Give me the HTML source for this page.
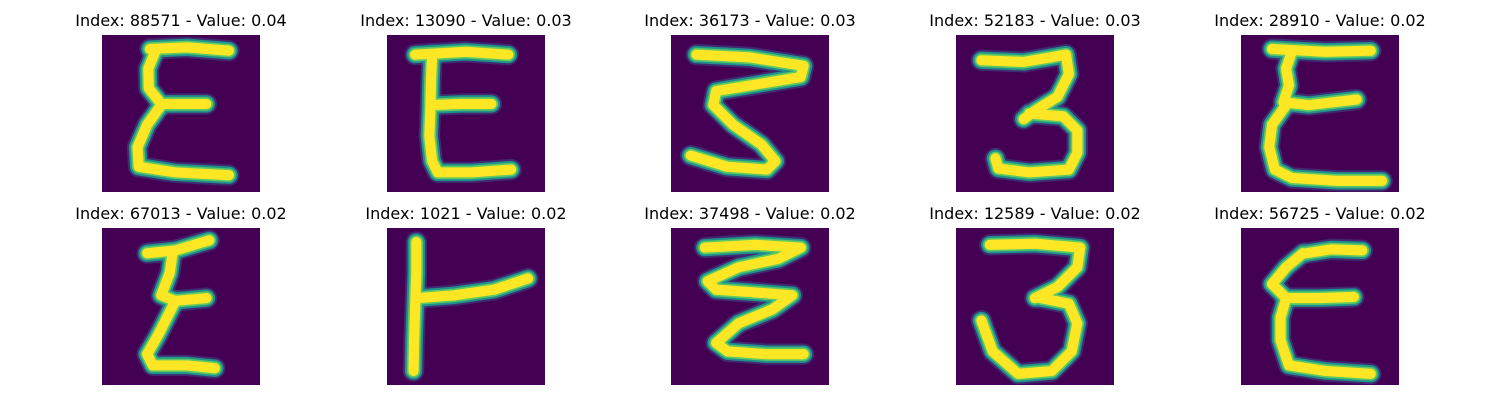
<!DOCTYPE html>
<html>
<head>
<meta charset="utf-8">
<style>
  html,body{margin:0;padding:0;background:#fff;}
  body{width:1500px;height:400px;position:relative;overflow:hidden;font-family:"DejaVu Sans","Liberation Sans",sans-serif;}
  .title{position:absolute;width:320px;text-align:center;font-size:16px;color:#000;line-height:19px;white-space:nowrap;}
  svg.img{position:absolute;}
</style>
</head>
<body>
<script>
const indices = [88571, 13090, 36173, 52183, 28910, 67013, 1021, 37498, 12589, 56725];
const values = [0.04, 0.03, 0.03, 0.03, 0.02, 0.02, 0.02, 0.02, 0.02, 0.02];
// stroke polylines in 28x28 pixel space for each digit-like glyph
const strokes = [
  [[[8.5,2.5],[15,2.2],[22.5,2.8]],[[9.5,2.8],[8.2,6],[8.3,9.5],[10.5,12.3],[18.5,12.3]],[[10.5,12.5],[8,16],[6.3,20],[6.5,23.5],[13,24.5],[22.5,25]]],
  [[[5,3.5],[14,3],[21.5,3.5]],[[8,3.5],[7.8,8],[7.7,13],[7.5,18],[8,22.5],[9,24.5],[15,24.5],[22,24]],[[8,12.5],[13,12.3],[18.5,12.3]]],
  [[[4.5,3.5],[14,4],[23.5,5.5],[23,7.5],[14,9],[8,10],[7.5,12.5],[11,16],[16,19.5],[18.5,22.5],[17,24],[10,23.5],[3.5,21.5]]],
  [[[4.5,4.5],[12,4.8],[19.5,3.5],[20,7],[18,11],[14,13.5],[12,15]],[[13,14],[19,14.5],[21.5,17],[21.5,21],[20,24],[13,24.5],[7.5,23.8],[7,22]]],
  [[[5.5,2.5],[15,3],[23,2.8]],[[9,3],[8,6],[8.5,9],[7.5,12],[12,12.5],[20.5,11.5]],[[8,12.5],[5.5,16],[5,20],[6,24],[9,25.5],[17,26],[25,26]]],
  [[[8,4.5],[13,4],[19,2.2]],[[12.5,4.5],[12,8],[10.5,12],[13,13],[18.5,12.5]],[[13,13],[11.5,16],[10,19],[8,22.5],[9,24.5],[15,24.5],[20,25]]],
  [[[5.2,2.5],[5.2,8],[5,14],[4.8,20],[4.7,25.5]],[[5.5,12.5],[12,12],[19,11],[25,9]]],
  [[[6,3.5],[15,3],[23,3.5],[19,5.5],[12,7],[6.5,9.5],[8,11],[15,11.5],[21.5,12],[18,14.5],[12,17],[8,20.5],[10,22],[17,22.5],[23.5,22.5]]],
  [[[6,3],[14,2.8],[22,3.5],[21.5,7],[18,10.5],[14,12.5]],[[15,12.5],[20,13.5],[21.5,17],[20.5,22],[17,25.5],[11,26],[6.5,22],[4.5,16.5]]],
  [[[11.5,4.5],[16,3.8],[21.5,4]],[[11,4.5],[8,7],[5.5,10],[8,12.5],[14,12.5],[20,12.3]],[[8,12.5],[7,16],[7,20],[8.5,24.5],[15,25.5],[23,26]]]
];
const xs = [102, 387, 671, 956, 1241];
const ys = [35, 228];
const SZ = 158;
const NS = "http://www.w3.org/2000/svg";
for (let i = 0; i < indices.length; i++) {
  const col = i % 5, row = Math.floor(i / 5);
  const t = document.createElement('div');
  t.className = 'title';
  
  
  t.style.left = (xs[col] + SZ / 2 - 160) + 'px';
  t.style.top = (ys[row] - 24) + 'px';
  t.textContent = 'Index: ' + indices[i] + ' - Value: ' + values[i].toFixed(2);
  document.body.appendChild(t);
  const svg = document.createElementNS(NS, 'svg');
  svg.setAttribute('class', 'img');
  
  
  svg.setAttribute('width', SZ);
  svg.setAttribute('height', SZ - 1);
  svg.setAttribute('viewBox', '0 0 28 28');
  svg.setAttribute('preserveAspectRatio', 'none');
  svg.style.left = xs[col] + 'px';
  svg.style.top = ys[row] + 'px';
  const bg = document.createElementNS(NS, 'rect');
  
  
  bg.setAttribute('width', 28); bg.setAttribute('height', 28); bg.setAttribute('fill', '#440154');
  svg.appendChild(bg);
  const layers = [[3.8, '#3b528b', 0.5], [3.1, '#21918c', 1], [2.4, '#5ec962', 1], [1.8, '#fde725', 1]];
  layers.forEach(([w, c, o]) => {
    strokes[i].forEach(pts => {
      const p = document.createElementNS(NS, 'polyline');
      
      
      p.setAttribute('points', pts.map(q => q.join(',')).join(' '));
      p.setAttribute('fill', 'none');
      p.setAttribute('stroke', c);
      p.setAttribute('stroke-opacity', o);
      p.setAttribute('stroke-width', w);
      p.setAttribute('stroke-linecap', 'round');
      p.setAttribute('stroke-linejoin', 'round');
      svg.appendChild(p);
    });
  });
  document.body.appendChild(svg);
}
</script>
</body>
</html>
